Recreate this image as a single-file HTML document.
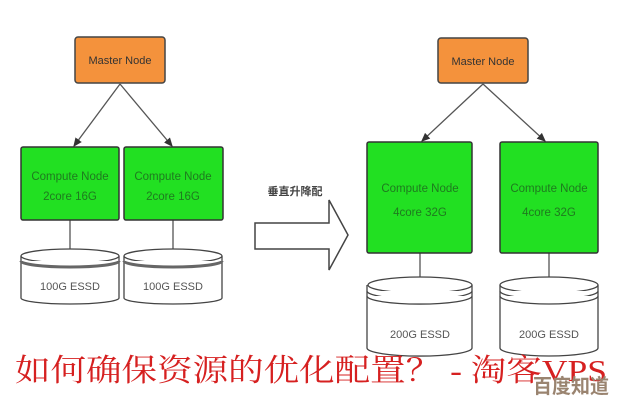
<!DOCTYPE html>
<html><head><meta charset="utf-8"><style>body{margin:0;background:#fff}svg{display:block}</style></head><body>
<svg width="620" height="400" viewBox="0 0 620 400" xmlns="http://www.w3.org/2000/svg" font-family="Liberation Sans, sans-serif">
<defs><marker id="a" markerWidth="8" markerHeight="8" refX="6" refY="4" orient="auto"><path d="M0,1 L7,4 L0,7 z" fill="#333"/></marker></defs>
<g stroke="#555" stroke-width="1.3" fill="none">
<line x1="120" y1="84" x2="74" y2="146" marker-end="url(#a)"/>
<line x1="120" y1="84" x2="172" y2="146" marker-end="url(#a)"/>
<line x1="483" y1="84" x2="422" y2="141" marker-end="url(#a)"/>
<line x1="483" y1="84" x2="545" y2="141" marker-end="url(#a)"/>
<line x1="70" y1="220" x2="70" y2="250"/><line x1="173" y1="220" x2="173" y2="250"/>
<line x1="420" y1="253" x2="420" y2="279"/><line x1="549" y1="253" x2="549" y2="279"/>
</g>
<rect x="75" y="37" width="90" height="46" rx="3" fill="#f4923c" stroke="#444" stroke-width="1.5"/>
<text x="120" y="64" font-size="11" text-anchor="middle" fill="#333">Master Node</text>
<rect x="438" y="38" width="90" height="45" rx="3" fill="#f4923c" stroke="#444" stroke-width="1.5"/>
<text x="483" y="65" font-size="11" text-anchor="middle" fill="#333">Master Node</text>
<g fill="#22e022" stroke="#333" stroke-width="1.5">
<rect x="21" y="147" width="98" height="73" rx="2"/><rect x="124" y="147" width="99" height="73" rx="2"/>
<rect x="367" y="142" width="105" height="111" rx="2"/><rect x="500" y="142" width="98" height="111" rx="2"/>
</g>
<g font-size="11.5" text-anchor="middle" fill="#1f7a1f">
<text x="70" y="180">Compute Node</text><text x="70" y="200">2core 16G</text>
<text x="173" y="180">Compute Node</text><text x="173" y="200">2core 16G</text>
<text x="420" y="192">Compute Node</text><text x="420" y="216">4core 32G</text>
<text x="549" y="192">Compute Node</text><text x="549" y="216">4core 32G</text>
</g>
<g fill="#fff" stroke="#444" stroke-width="1.3">
<path d="M21,256 L21,298 A49,6 0 0 0 119,298 L119,256"/><ellipse cx="70" cy="256" rx="49" ry="7"/>
<path d="M21,261 A49,6 0 0 0 119,261" stroke-width="3" stroke="#666"/>
<path d="M124,256 L124,298 A49,6 0 0 0 222,298 L222,256"/><ellipse cx="173" cy="256" rx="49" ry="7"/>
<path d="M124,261 A49,6 0 0 0 222,261" stroke-width="3" stroke="#666"/>
<path d="M367,285 L367,348 A52,8 0 0 0 472,348 L472,285"/><ellipse cx="420" cy="285" rx="52" ry="8"/>
<path d="M367,291 A52,8 0 0 0 472,291"/><path d="M367,296 A52,8 0 0 0 472,296"/>
<path d="M500,285 L500,348 A49,8 0 0 0 598,348 L598,285"/><ellipse cx="549" cy="285" rx="49" ry="8"/>
<path d="M500,291 A49,8 0 0 0 598,291"/><path d="M500,296 A49,8 0 0 0 598,296"/>
</g>
<g font-size="11" text-anchor="middle" fill="#555">
<text x="70" y="290">100G ESSD</text><text x="173" y="290">100G ESSD</text>
<text x="420" y="338">200G ESSD</text><text x="549" y="338">200G ESSD</text>
</g>
<path d="M255,223 L329,223 L329,200 L348,235 L329,270 L329,249 L255,249 Z" fill="#fff" stroke="#444" stroke-width="1.5"/>
<text x="295" y="195" font-size="11" font-weight="bold" text-anchor="middle" fill="#444" font-family="Liberation Sans, Noto Sans CJK SC, sans-serif">垂直升降配</text>
<text x="15" y="381" font-size="31" fill="#d62020" textLength="592" lengthAdjust="spacingAndGlyphs" font-family="Liberation Serif, Noto Serif CJK SC, serif">如何确保资源的优化配置？ - 淘客VPS</text>
<text x="533" y="393" font-size="20" font-weight="bold" fill="#9a8470" font-family="Liberation Sans, Noto Sans CJK SC, sans-serif" textLength="76" lengthAdjust="spacingAndGlyphs">百度知道</text>
</svg>
</body></html>
